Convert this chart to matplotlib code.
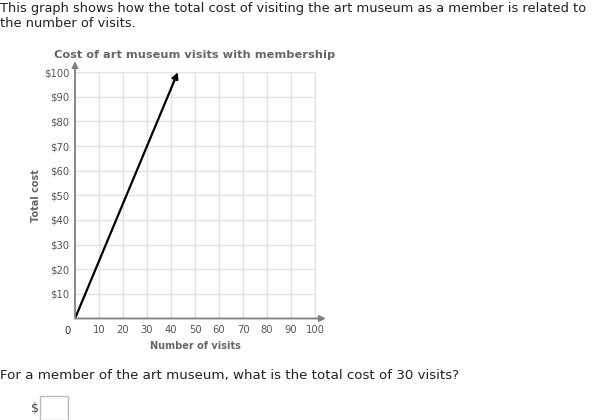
import matplotlib
matplotlib.use("Agg")
import matplotlib.pyplot as plt

# data: line through origin and (30, $70), arrow at $100
visits = [0, 30, 42.86]
total_cost = [0, 70, 100]

x_ticks = [10, 20, 30, 40, 50, 60, 70, 80, 90, 100]
y_ticks = [10, 20, 30, 40, 50, 60, 70, 80, 90, 100]
y_tick_labels = ['$' + str(v) for v in y_ticks]

header = ("This graph shows how the total cost of visiting the art museum as a member is related to\n"
          "the number of visits.")
question = "For a member of the art museum, what is the total cost of 30 visits?"

plt.rcParams['font.family'] = ['DejaVu Sans']

fig = plt.figure(figsize=(6, 4.2), dpi=100)
ax = fig.add_axes([0.125, 0.2417, 0.40, 0.5863])

ax.set_xlim(0, 100)
ax.set_ylim(0, 100)
ax.set_xticks(x_ticks)
ax.set_yticks(y_ticks)
ax.set_xticklabels([str(v) for v in x_ticks])
ax.set_yticklabels(y_tick_labels)
ax.tick_params(length=0, labelsize=7.2, labelcolor='#555555')
ax.tick_params(axis='x', pad=5)
ax.tick_params(axis='y', pad=4)
ax.grid(True, color='#e2e2e2', linewidth=1)
ax.set_axisbelow(True)
for side in ['left', 'bottom']:
    ax.spines[side].set_visible(False)
for side in ['top', 'right']:
    ax.spines[side].set_color('#e2e2e2')

# axes with arrow heads
ax.annotate('', xy=(1.045, 0), xytext=(0, 0), xycoords='axes fraction',
            arrowprops=dict(arrowstyle='-|>', color='#808080', lw=1.3,
                            shrinkA=0, shrinkB=0, mutation_scale=9), annotation_clip=False)
ax.annotate('', xy=(0, 1.045), xytext=(0, 0), xycoords='axes fraction',
            arrowprops=dict(arrowstyle='-|>', color='#808080', lw=1.3,
                            shrinkA=0, shrinkB=0, mutation_scale=9), annotation_clip=False)
ax.text(-0.03, -0.03, '0', transform=ax.transAxes, ha='center', va='top',
        fontsize=7.2, color='#333333')

# the cost line, arrow head on the last piece
ax.plot(visits[:2], total_cost[:2], color='black', linewidth=1.6, solid_capstyle='butt')
ax.annotate('', xy=(visits[2], total_cost[2]), xytext=(visits[1], total_cost[1]),
            arrowprops=dict(arrowstyle='-|>', color='black', lw=1.6,
                            shrinkA=0, shrinkB=0, mutation_scale=9), annotation_clip=False)

ax.set_title('Cost of art museum visits with membership', fontsize=8.2, fontweight='bold',
             color='#666666', pad=10)
ax.set_xlabel('Number of visits', fontsize=7, fontweight='bold', color='#666666', labelpad=4)
ax.set_ylabel('Total cost', fontsize=7, fontweight='bold', color='#666666', labelpad=2)

fig.text(0.0, 0.995, header, ha='left', va='top', fontsize=9.35, color='#222222', linespacing=1.2)
fig.text(0.0, 0.105, question, ha='left', va='center', fontsize=9.6, color='#222222')
fig.text(0.052, 0.028, '$', ha='left', va='center', fontsize=9, color='#444444')
fig.patches.append(plt.Rectangle((0.067, 0.0), 0.047, 0.057, transform=fig.transFigure,
                                 facecolor='white', edgecolor='#bbbbbb', linewidth=1))

fig.savefig('out.png', dpi=100)
